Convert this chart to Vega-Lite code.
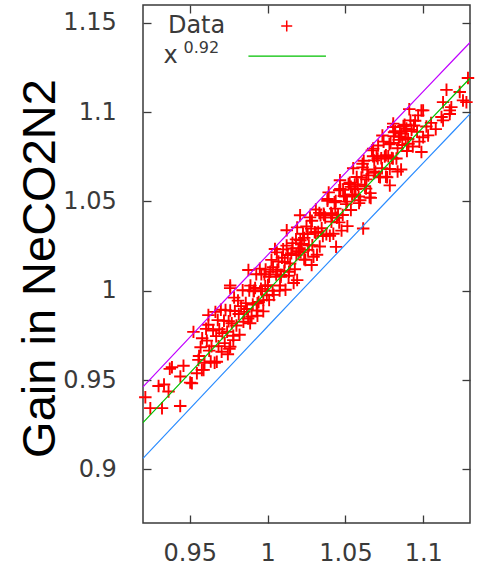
{
  "$schema": "https://vega.github.io/schema/vega-lite/v6.json",
  "width": 327,
  "height": 518,
  "autosize": {"type": "none"},
  "padding": {"left": 143, "top": 5, "right": 7, "bottom": 44},
  "background": "white",
  "config": {
    "view": {"stroke": "#3a3a3a", "strokeWidth": 1.5},
    "axis": {
      "labelFont": "DejaVu Sans",
      "labelFontSize": 24,
      "labelColor": "#3a3a3a",
      "tickColor": "#3a3a3a",
      "tickWidth": 1.3,
      "tickSize": -8,
      "domain": false,
      "grid": false,
      "format": "~g"
    }
  },
  "datasets": {
    "pts": [
      {"x":0.9215,"y":0.9404},{"x":0.9247,"y":0.9343},{"x":0.9322,"y":0.9343},{"x":0.9300,"y":0.9467},{"x":0.9335,"y":0.9475},
      {"x":0.9364,"y":0.9436},{"x":0.9439,"y":0.9355},{"x":0.9386,"y":0.9572},{"x":0.9372,"y":0.9563},{"x":0.9440,"y":0.9520},
      {"x":0.9503,"y":0.9486},{"x":0.9460,"y":0.9580},{"x":0.9546,"y":0.9538},{"x":0.9589,"y":0.9557},{"x":0.9524,"y":0.9770},
      {"x":0.9514,"y":0.9482},{"x":0.9556,"y":0.9613},{"x":0.9578,"y":0.9557},{"x":0.9620,"y":0.9864},{"x":0.9674,"y":0.9603},
      {"x":0.9760,"y":0.9687},{"x":0.9780,"y":0.9724},{"x":0.9760,"y":1.0015},{"x":0.9888,"y":0.9818},{"x":0.9930,"y":0.9890},
      {"x":0.9973,"y":0.9948},{"x":1.0080,"y":1.0030},{"x":1.0190,"y":1.0060},{"x":1.0283,"y":1.0144},{"x":1.0440,"y":1.0246},
      {"x":1.0614,"y":1.0349},{"x":1.0785,"y":1.0590},{"x":1.0988,"y":1.0777},{"x":1.0999,"y":1.0860},{"x":1.0988,"y":1.1010},
      {"x":1.0967,"y":1.0982},{"x":1.0807,"y":1.0917},{"x":1.0678,"y":1.0796},{"x":1.0465,"y":1.0619},{"x":1.0209,"y":1.0423},
      {"x":1.0123,"y":1.0339},{"x":0.9877,"y":1.0116},{"x":0.9760,"y":1.0030},
      {"x":1.1127,"y":1.0954},{"x":1.1170,"y":1.1010},{"x":1.1277,"y":1.1056},{"x":1.1287,"y":1.1191},{"x":1.1149,"y":1.1125},
      {"x":1.1234,"y":1.1113},{"x":1.1255,"y":1.1066},{"x":1.1127,"y":1.1056},{"x":1.1180,"y":1.1028},{"x":1.1117,"y":1.0973},
      {"x":1.1170,"y":1.0990},{"x":1.0999,"y":1.1010},{"x":1.1031,"y":1.0870},{"x":1.0807,"y":1.0936},
      {"x":1.0892,"y":1.0908},{"x":1.0850,"y":1.0890},{"x":1.1050,"y":1.0940},{"x":1.1080,"y":1.0905},{"x":1.1020,"y":1.0920},
      {"x":1.0960,"y":1.0890},{"x":1.0975,"y":1.0835},
      {"x":0.956,"y":0.9635},{"x":0.958,"y":0.9734},{"x":0.9595,"y":0.9597},{"x":0.961,"y":0.9721},{"x":0.962,"y":0.9810},
      {"x":0.9635,"y":0.9604},{"x":0.964,"y":0.9689},{"x":0.965,"y":0.9778},{"x":0.966,"y":0.9597},{"x":0.967,"y":0.9746},
      {"x":0.968,"y":0.9836},{"x":0.9685,"y":0.9690},{"x":0.969,"y":0.9785},{"x":0.970,"y":0.9894},{"x":0.9705,"y":0.9659},
      {"x":0.971,"y":0.9763},{"x":0.972,"y":0.9832},{"x":0.9725,"y":0.9707},{"x":0.973,"y":0.9892},{"x":0.974,"y":0.9771},
      {"x":0.975,"y":0.9830},{"x":0.9755,"y":0.9675},{"x":0.976,"y":0.9889},{"x":0.977,"y":0.9818},{"x":0.978,"y":0.9748},
      {"x":0.9785,"y":0.9962},{"x":0.979,"y":0.9887},{"x":0.980,"y":0.9806},{"x":0.981,"y":0.9945},{"x":0.9815,"y":0.9870},
      {"x":0.982,"y":0.9754},{"x":0.983,"y":0.9914},{"x":0.984,"y":1.0003},{"x":0.9845,"y":0.9827},{"x":0.985,"y":0.9882},
      {"x":0.9625,"y":0.9665},{"x":0.9665,"y":0.9882},{"x":0.9745,"y":0.9645},{"x":0.957,"y":0.9684},{"x":0.9605,"y":0.9787},
      {"x":0.9860,"y":0.9931},{"x":0.9875,"y":0.9845},{"x":0.9890,"y":1.0029},{"x":0.9905,"y":0.9923},{"x":0.9920,"y":1.0016},
      {"x":0.9935,"y":0.9860},{"x":0.9950,"y":1.0124},{"x":0.9965,"y":0.9998},{"x":0.9980,"y":1.0092},{"x":0.9995,"y":0.9975},
      {"x":1.0010,"y":1.0079},{"x":1.0025,"y":1.0173},{"x":1.0040,"y":0.9977},{"x":1.0055,"y":1.0091},{"x":1.0070,"y":1.0164},
      {"x":1.0085,"y":1.0078},{"x":1.0100,"y":1.0232},{"x":1.0115,"y":1.0006},{"x":1.0130,"y":1.0200},{"x":1.0145,"y":1.0153},
      {"x":1.0160,"y":1.0267},{"x":1.0175,"y":1.0121},{"x":1.0190,"y":1.0355},{"x":1.0205,"y":1.0239},{"x":1.0220,"y":1.0262},
      {"x":1.0235,"y":1.0176},{"x":1.0250,"y":1.0360},{"x":1.0265,"y":1.0254},{"x":1.0280,"y":1.0348},{"x":1.0295,"y":1.0191},
      {"x":1.0310,"y":1.0455},{"x":1.0325,"y":1.0329},{"x":1.0340,"y":1.0423},{"x":1.0355,"y":1.0307},{"x":1.0370,"y":1.0410},
      {"x":1.0385,"y":1.0504},{"x":1.0400,"y":1.0308},{"x":1.0415,"y":1.0422},{"x":1.0430,"y":1.0496},{"x":1.0445,"y":1.0409},
      {"x":1.0460,"y":1.0563},{"x":1.0475,"y":1.0337},{"x":1.0490,"y":1.0531},{"x":1.0505,"y":1.0485},{"x":1.0520,"y":1.0598},
      {"x":1.0535,"y":1.0452},{"x":1.0550,"y":1.0686},{"x":1.0565,"y":1.0570},{"x":1.0580,"y":1.0594},{"x":1.0595,"y":1.0507},
      {"x":1.0610,"y":1.0691},{"x":1.0625,"y":1.0585},{"x":1.0640,"y":1.0679},{"x":1.0655,"y":1.0523},{"x":1.0670,"y":1.0786},
      {"x":1.0685,"y":1.0660},{"x":1.0700,"y":1.0754},{"x":1.0715,"y":1.0638},{"x":1.0730,"y":1.0742},{"x":1.0745,"y":1.0835},
      {"x":1.0760,"y":1.0639},{"x":1.0775,"y":1.0753},{"x":1.0790,"y":1.0827},{"x":1.0805,"y":1.0741},{"x":1.0820,"y":1.0894},
      {"x":1.0835,"y":1.0668},{"x":1.0850,"y":1.0862},{"x":1.0865,"y":1.0816},{"x":1.0880,"y":1.0930},{"x":1.0895,"y":1.0783},
      {"x":1.0910,"y":1.1017},{"x":1.0925,"y":1.0901},{"x":1.0940,"y":1.0925},
      {"x":0.98675,"y":0.9898},{"x":0.98825,"y":1.0002},{"x":0.98975,"y":0.9856},{"x":0.99125,"y":1.0000},{"x":0.99275,"y":1.0093},
      {"x":0.99425,"y":0.9937},{"x":0.99575,"y":1.0011},{"x":0.99725,"y":0.9885},{"x":0.99875,"y":1.0119},{"x":1.00025,"y":1.0032},
      {"x":1.00175,"y":1.0106},{"x":1.00325,"y":1.0000},{"x":1.00475,"y":1.0234},{"x":1.00625,"y":1.0118},{"x":1.00775,"y":1.0001},
      {"x":1.00925,"y":1.0185},{"x":1.01075,"y":1.0109},{"x":1.01225,"y":1.0253},{"x":1.01375,"y":1.0107},{"x":1.01525,"y":1.0210},
      {"x":1.01675,"y":1.0044},{"x":1.01825,"y":1.0288},{"x":1.01975,"y":1.0222},{"x":1.02125,"y":1.0216},{"x":1.02275,"y":1.0319},
      {"x":1.02425,"y":1.0173},{"x":1.02575,"y":1.0317},{"x":1.02725,"y":1.0411},{"x":1.02875,"y":1.0255},{"x":1.03025,"y":1.0328},
      {"x":1.03175,"y":1.0202},{"x":1.03325,"y":1.0436},{"x":1.03475,"y":1.0350},{"x":1.03625,"y":1.0424},{"x":1.03775,"y":1.0317},
      {"x":1.03925,"y":1.0551},{"x":1.04075,"y":1.0435},{"x":1.04225,"y":1.0319},{"x":1.04375,"y":1.0503},{"x":1.04525,"y":1.0426},
      {"x":1.04675,"y":1.0570},{"x":1.04825,"y":1.0424},{"x":1.04975,"y":1.0528},{"x":1.05125,"y":1.0362},{"x":1.05275,"y":1.0605},
      {"x":1.05425,"y":1.0539},{"x":1.05575,"y":1.0533},{"x":1.05725,"y":1.0637},{"x":1.05875,"y":1.0491},{"x":1.06025,"y":1.0634},
      {"x":1.06175,"y":1.0728},{"x":1.06325,"y":1.0572},{"x":1.06475,"y":1.0646},{"x":1.06625,"y":1.0520},{"x":1.06775,"y":1.0753},
      {"x":1.06925,"y":1.0667},{"x":1.07075,"y":1.0741},{"x":1.07225,"y":1.0635},{"x":1.07375,"y":1.0869},{"x":1.07525,"y":1.0752},
      {"x":1.07675,"y":1.0636},{"x":1.07825,"y":1.0820},{"x":1.07975,"y":1.0744},{"x":1.08125,"y":1.0888},{"x":1.08275,"y":1.0741},
      {"x":1.08425,"y":1.0845},{"x":1.08575,"y":1.0679},{"x":1.08725,"y":1.0923},{"x":1.08875,"y":1.0857},{"x":1.09025,"y":1.0850},
      {"x":1.09175,"y":1.0954},{"x":1.09325,"y":1.0808},{"x":1.09475,"y":1.0952},
      {"x":0.9910,"y":0.9997},{"x":0.9935,"y":0.9930},{"x":0.9960,"y":1.0093},{"x":0.9985,"y":1.0026},{"x":1.0010,"y":0.9949},
      {"x":1.0035,"y":1.0132},{"x":1.0060,"y":1.0215},{"x":1.0085,"y":1.0088},{"x":1.0110,"y":1.0161},{"x":1.0135,"y":1.0084},
      {"x":1.0160,"y":1.0237},{"x":1.0185,"y":1.0200},{"x":1.0210,"y":1.0283},{"x":1.0235,"y":1.0296},{"x":1.0260,"y":1.0229},
      {"x":1.0285,"y":1.0392},{"x":1.0310,"y":1.0325},{"x":1.0335,"y":1.0248},{"x":1.0360,"y":1.0431},{"x":1.0385,"y":1.0514},
      {"x":1.0410,"y":1.0387},{"x":1.0435,"y":1.0460},{"x":1.0460,"y":1.0383},{"x":1.0485,"y":1.0566},{"x":1.0510,"y":1.0499},
      {"x":1.0535,"y":1.0582},{"x":1.0560,"y":1.0595},{"x":1.0585,"y":1.0528},{"x":1.0610,"y":1.0711},{"x":1.0635,"y":1.0624},
      {"x":1.0660,"y":1.0547},{"x":1.0685,"y":1.0730},{"x":1.0710,"y":1.0813},{"x":1.0735,"y":1.0686},{"x":1.0760,"y":1.0759},
      {"x":1.0785,"y":1.0682},{"x":1.0810,"y":1.0865},{"x":1.0835,"y":1.0798},{"x":1.0860,"y":1.0881},{"x":1.0885,"y":1.0894},
      {"x":1.0905,"y":1.0823}
    ],
    "curves": [
      {"x":0.92,"y":0.94616,"c":"upper"},{"x":0.94,"y":0.96466,"c":"upper"},{"x":0.96,"y":0.98314,"c":"upper"},
      {"x":0.98,"y":1.00158,"c":"upper"},{"x":1.00,"y":1.02,"c":"upper"},{"x":1.02,"y":1.03839,"c":"upper"},
      {"x":1.04,"y":1.05674,"c":"upper"},{"x":1.06,"y":1.07507,"c":"upper"},{"x":1.08,"y":1.09337,"c":"upper"},
      {"x":1.10,"y":1.11164,"c":"upper"},{"x":1.12,"y":1.12989,"c":"upper"},{"x":1.13,"y":1.139,"c":"upper"},
      {"x":0.92,"y":0.92616,"c":"fit"},{"x":0.94,"y":0.94466,"c":"fit"},{"x":0.96,"y":0.96314,"c":"fit"},
      {"x":0.98,"y":0.98158,"c":"fit"},{"x":1.00,"y":1.0,"c":"fit"},{"x":1.02,"y":1.01839,"c":"fit"},
      {"x":1.04,"y":1.03674,"c":"fit"},{"x":1.06,"y":1.05507,"c":"fit"},{"x":1.08,"y":1.07337,"c":"fit"},
      {"x":1.10,"y":1.09164,"c":"fit"},{"x":1.12,"y":1.10989,"c":"fit"},{"x":1.13,"y":1.119,"c":"fit"},
      {"x":0.92,"y":0.90616,"c":"lower"},{"x":0.94,"y":0.92466,"c":"lower"},{"x":0.96,"y":0.94314,"c":"lower"},
      {"x":0.98,"y":0.96158,"c":"lower"},{"x":1.00,"y":0.98,"c":"lower"},{"x":1.02,"y":0.99839,"c":"lower"},
      {"x":1.04,"y":1.01674,"c":"lower"},{"x":1.06,"y":1.03507,"c":"lower"},{"x":1.08,"y":1.05337,"c":"lower"},
      {"x":1.10,"y":1.07164,"c":"lower"},{"x":1.12,"y":1.08989,"c":"lower"},{"x":1.13,"y":1.099,"c":"lower"}
    ]
  },
  "resolve": {"axis": {"x": "independent", "y": "independent"}},
  "layer": [
    {
      "data": {"name": "pts"},
      "mark": {"type": "point", "shape": "M-1,0H1M0,-1V1", "filled": false, "stroke": "#ff0000", "strokeWidth": 1.9, "size": 156, "opacity": 1},
      "encoding": {
        "x": {"field": "x", "type": "quantitative",
              "scale": {"domain": [0.92, 1.13], "nice": false, "zero": false},
              "axis": {"orient": "top", "labels": false, "title": null, "values": [0.95, 1, 1.05, 1.1]}},
        "y": {"field": "y", "type": "quantitative",
              "scale": {"domain": [0.87, 1.16], "nice": false, "zero": false},
              "axis": {"orient": "right", "labels": false, "title": null, "values": [0.9, 0.95, 1, 1.05, 1.1, 1.15]}}
      }
    },
    {
      "data": {"name": "curves"},
      "mark": {"type": "line", "strokeWidth": 1.2},
      "encoding": {
        "x": {"field": "x", "type": "quantitative",
              "axis": {"orient": "bottom", "title": null, "values": [0.95, 1, 1.05, 1.1],
                       "labelBaseline": "alphabetic", "labelPadding": 45.7}},
        "y": {"field": "y", "type": "quantitative",
              "axis": {"orient": "left", "values": [0.9, 0.95, 1, 1.05, 1.1, 1.15],
                       "labelPadding": 34.7,
                       "title": "Gain in NeCO2N2",
                       "titleFont": "Liberation Sans", "titleFontSize": 47, "titleFontWeight": "normal",
                       "titleColor": "#000000", "titleAngle": -90, "titleBaseline": "alphabetic",
                       "titleAlign": "center", "titleX": -88.5, "titleY": 263}},
        "color": {"field": "c", "type": "nominal",
                  "scale": {"domain": ["upper", "fit", "lower"], "range": ["#c000ff", "#00c000", "#2b8cff"]},
                  "legend": null}
      }
    },
    {
      "data": {"values": [{}]},
      "mark": {"type": "text", "text": "Data", "align": "right", "baseline": "alphabetic", "font": "DejaVu Sans", "fontSize": 24, "color": "#3a3a3a"},
      "encoding": {
        "x": {"datum": 0.9728, "type": "quantitative", "axis": null},
        "y": {"datum": 1.1441, "type": "quantitative", "axis": null}
      }
    },
    {
      "data": {"values": [{}]},
      "mark": {"type": "point", "shape": "M-1,0H1M0,-1V1", "filled": false, "stroke": "#ff0000", "strokeWidth": 1.5, "size": 121, "opacity": 1},
      "encoding": {
        "x": {"datum": 1.0123, "type": "quantitative", "axis": null},
        "y": {"datum": 1.1483, "type": "quantitative", "axis": null}
      }
    },
    {
      "data": {"values": [{}]},
      "mark": {"type": "text", "text": "x", "align": "left", "baseline": "alphabetic", "font": "DejaVu Sans", "fontSize": 24, "color": "#3a3a3a"},
      "encoding": {
        "x": {"datum": 0.9332, "type": "quantitative", "axis": null},
        "y": {"datum": 1.1273, "type": "quantitative", "axis": null}
      }
    },
    {
      "data": {"values": [{}]},
      "mark": {"type": "text", "text": "0.92", "align": "left", "baseline": "alphabetic", "font": "DejaVu Sans", "fontSize": 16, "color": "#3a3a3a"},
      "encoding": {
        "x": {"datum": 0.9460, "type": "quantitative", "axis": null},
        "y": {"datum": 1.1329, "type": "quantitative", "axis": null}
      }
    },
    {
      "data": {"values": [{}]},
      "mark": {"type": "rule", "color": "#00c000", "strokeWidth": 1.2},
      "encoding": {
        "x": {"datum": 0.9877, "type": "quantitative", "axis": null},
        "x2": {"datum": 1.0375},
        "y": {"datum": 1.1314, "type": "quantitative", "axis": null}
      }
    }
  ]
}
